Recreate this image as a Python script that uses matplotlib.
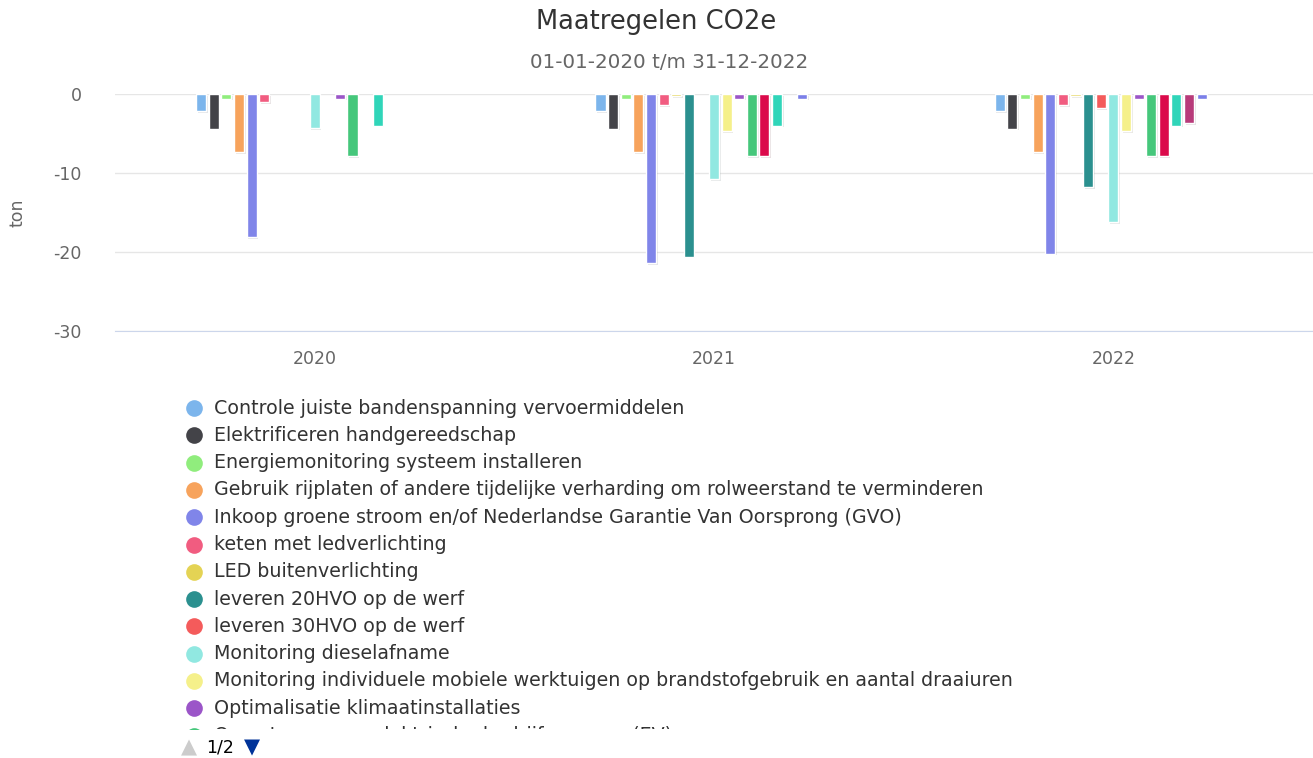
import matplotlib.pyplot as plt
import matplotlib.patheffects as pe
from matplotlib.transforms import Bbox
import numpy as np

plt.rcParams['font.family'] = ['DejaVu Sans']
plt.rcParams['axes.unicode_minus'] = False

nan = np.nan

years = ['2020', '2021', '2022']

# legend page 1 (13th item is cut off by the legend box)
labels = [
    'Controle juiste bandenspanning vervoermiddelen',
    'Elektrificeren handgereedschap',
    'Energiemonitoring systeem installeren',
    'Gebruik rijplaten of andere tijdelijke verharding om rolweerstand te verminderen',
    'Inkoop groene stroom en/of Nederlandse Garantie Van Oorsprong (GVO)',
    'keten met ledverlichting',
    'LED buitenverlichting',
    'leveren 20HVO op de werf',
    'leveren 30HVO op de werf',
    'Monitoring dieselafname',
    'Monitoring individuele mobiele werktuigen op brandstofgebruik en aantal draaiuren',
    'Optimalisatie klimaatinstallaties',
    'Overstappen op elektrische bedrijfswagens (EV)',
]

colors = ['#7cb5ec', '#434348', '#90ed7d', '#f7a35c', '#8085e9', '#f15c80',
          '#e4d354', '#2b908f', '#f45b5b', '#91e8e1', '#f5f08a', '#9b55c8',
          '#45c77b', '#db0a4b', '#30d5b9', '#b83b7a', '#7b7fe8']

# values per series: 2020, 2021, 2022 (ton CO2e)
s01 = [-2.2, -2.2, -2.2]
s02 = [-4.4, -4.4, -4.4]
s03 = [-0.6, -0.6, -0.6]
s04 = [-7.4, -7.4, -7.4]
s05 = [-18.1, -21.4, -20.2]
s06 = [-1.0, -1.4, -1.4]
s07 = [nan, -0.3, -0.3]
s08 = [nan, -20.6, -11.8]
s09 = [nan, nan, -1.8]
s10 = [-4.3, -10.8, -16.2]
s11 = [nan, -4.7, -4.7]
s12 = [-0.6, -0.6, -0.6]
s13 = [-7.9, -7.9, -7.9]
s14 = [nan, -7.9, -7.9]
s15 = [-4.0, -4.0, -4.0]
s16 = [nan, nan, -3.7]
s17 = [nan, -0.6, -0.6]
series = [s01, s02, s03, s04, s05, s06, s07, s08, s09, s10,
          s11, s12, s13, s14, s15, s16, s17]
n_series = 19  # two more series on legend page 2 without values here

W, H = 1313, 758
fig = plt.figure(figsize=(W / 100, H / 100), dpi=100)
ax = fig.add_axes([115 / W, 1 - 331 / H, 1198 / W, (331 - 94) / H])

x = np.arange(len(years))
slot = 0.6 / n_series
for i, (vals, c) in enumerate(zip(series, colors)):
    xpos = x - 0.3 + (i + 0.5) * slot
    ax.bar(xpos, vals, width=slot * 0.8, color=c, edgecolor='white',
           linewidth=1, zorder=3,
           path_effects=[pe.SimplePatchShadow(offset=(1.2, -1.2), alpha=0.12),
                         pe.Normal()])

ax.set_xlim(-0.5, 2.5)
ax.set_ylim(-30, 0)
ax.set_yticks([0, -10, -20, -30])
ax.set_xticks(x)
ax.set_xticklabels(years)
ax.grid(axis='y', color='#e6e6e6', linewidth=1, zorder=0)
for side in ['top', 'right', 'left']:
    ax.spines[side].set_visible(False)
ax.spines['bottom'].set_color('#ccd6eb')
ax.tick_params(axis='both', length=0, colors='#666666', labelsize=12.5)
ax.tick_params(axis='y', pad=24)
ax.tick_params(axis='x', pad=14)
ax.set_ylabel('ton', color='#666666', fontsize=12.5)
ax.yaxis.set_label_coords((27 - 115) / 1198, 0.5)

fig.text(0.5, 1 - 22 / H, 'Maatregelen CO2e', ha='center', va='center',
         fontsize=18.5, color='#333333')
fig.text(669 / W, 1 - 63 / H, '01-01-2020 t/m 31-12-2022', ha='center',
         va='center', fontsize=14.3, color='#666666')

# legend (first page)
lg = fig.add_axes([0, 0, 1, 1])
lg.set_xlim(0, W)
lg.set_ylim(H, 0)
lg.axis('off')
clip = Bbox([[0, H - 729], [W, H]])
for k, lab in enumerate(labels):
    y = 408 + k * 27.3
    dot, = lg.plot(194, y, 'o', ms=12, color=colors[k], mec='none')
    t = lg.text(214, y, lab, va='center', ha='left', fontsize=13.7,
                color='#333333')
    dot.set_clip_box(clip)
    t.set_clip_box(clip)
    t.set_clip_on(True)

lg.text(189, 747, '▲', color='#cccccc', fontsize=15, ha='center', va='center')
lg.text(206, 748, '1/2', color='#000000', fontsize=12.5, ha='left', va='center')
lg.text(252, 747, '▼', color='#003399', fontsize=15, ha='center', va='center')

plt.savefig('out.png', dpi=100)
